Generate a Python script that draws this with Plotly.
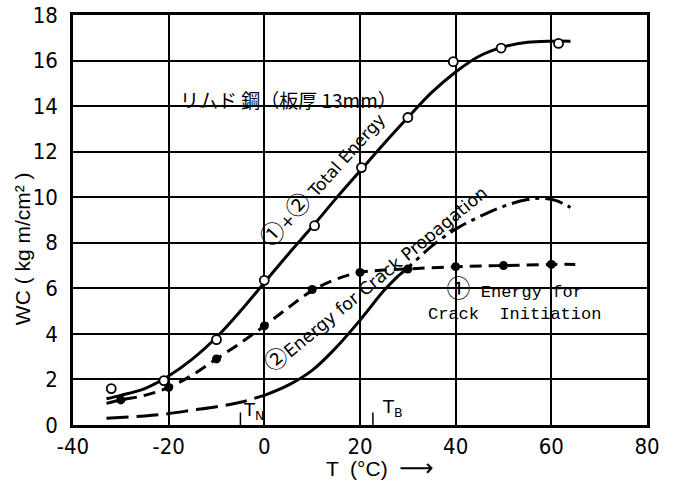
import plotly.graph_objects as go

# ---- data ----
# Total energy (1)+(2): measured points (open circles) and fitted curve
tot_pts_T = [-32, -21, -10, 0, 10.5, 20.3, 30, 39.5, 49.5, 61.5]
tot_pts_WC = [1.6, 1.95, 3.75, 6.35, 8.75, 11.3, 13.5, 15.95, 16.55, 16.75]
tot_T = [-33, -30, -25, -20, -15, -10, -5, 0, 5, 10, 15, 20, 25, 30, 35, 40, 45, 50, 55, 60, 64]
tot_WC = [1.15, 1.3, 1.6, 2.15, 2.9, 3.85, 5.0, 6.25, 7.5, 8.7, 9.95, 11.15, 12.35, 13.5, 14.6, 15.5, 16.2, 16.6, 16.8, 16.85, 16.85]

# Energy for crack initiation (1): points (filled circles) and curve
ini_pts_T = [-30, -20, -10, 0, 10, 20, 30, 40, 50, 60]
ini_pts_WC = [1.1, 1.65, 2.9, 4.35, 5.95, 6.7, 6.85, 6.95, 7.0, 7.05]
ini_T = [-33, -30, -25, -20, -15, -10, -5, 0, 5, 10, 15, 20, 25, 30, 40, 50, 60, 65]
ini_WC = [0.95, 1.1, 1.3, 1.65, 2.2, 2.9, 3.6, 4.35, 5.15, 5.9, 6.4, 6.7, 6.8, 6.85, 6.95, 7.0, 7.05, 7.05]

# Energy for crack propagation (2): curve only
prop_T = [-33, -25, -20, -15, -10, -5, 0, 5, 10, 15, 20, 25, 28, 30, 35, 40, 45, 50, 55, 58, 61, 64]
prop_WC = [0.3, 0.4, 0.5, 0.65, 0.8, 1.0, 1.3, 1.75, 2.4, 3.4, 4.6, 5.9, 6.55, 6.9, 7.85, 8.6, 9.15, 9.6, 9.9, 9.95, 9.85, 9.55]

x_ticks = [-40, -20, 0, 20, 40, 60, 80]
y_ticks = [0, 2, 4, 6, 8, 10, 12, 14, 16, 18]

# Transition temperature marks
T_N = -5
T_B = 22.7

fig = go.Figure()

# propagation curve in three styled segments
i0 = prop_T.index(0)
i1 = prop_T.index(28)
fig.add_trace(go.Scatter(x=prop_T[:i0 + 1], y=prop_WC[:i0 + 1], mode="lines",
                         line=dict(color="black", width=3, dash="22px,8px", shape="spline"),
                         showlegend=False, hoverinfo="skip"))
fig.add_trace(go.Scatter(x=prop_T[i0:i1 + 1], y=prop_WC[i0:i1 + 1], mode="lines",
                         line=dict(color="black", width=3, shape="spline"),
                         showlegend=False, hoverinfo="skip"))
fig.add_trace(go.Scatter(x=prop_T[i1:], y=prop_WC[i1:], mode="lines",
                         line=dict(color="black", width=3, dash="18px,6px,4px,6px", shape="spline"),
                         showlegend=False, hoverinfo="skip"))

# crack initiation
fig.add_trace(go.Scatter(x=ini_T, y=ini_WC, mode="lines",
                         line=dict(color="black", width=3, dash="12px,7px", shape="spline"),
                         showlegend=False, hoverinfo="skip"))
fig.add_trace(go.Scatter(x=ini_pts_T, y=ini_pts_WC, mode="markers",
                         marker=dict(color="black", size=9, symbol="circle"),
                         showlegend=False, hoverinfo="skip"))

# total energy
fig.add_trace(go.Scatter(x=tot_T, y=tot_WC, mode="lines",
                         line=dict(color="black", width=3, shape="spline"),
                         showlegend=False, hoverinfo="skip"))
fig.add_trace(go.Scatter(x=tot_pts_T, y=tot_pts_WC, mode="markers",
                         marker=dict(color="white", size=9, symbol="circle",
                                     line=dict(color="black", width=1.8)),
                         showlegend=False, hoverinfo="skip"))

# T_N, T_B short marks
for tv in (T_N, T_B):
    fig.add_shape(type="line", x0=tv, x1=tv, y0=0, y1=0.55, xref="x", yref="y",
                  line=dict(color="black", width=1.5))

font_main = "DejaVu Sans, Liberation Sans, sans-serif"
font_cjk = "Noto Sans CJK JP"


def circ(ch, size):
    return f"<span style=\"font-family:'Noto Sans CJK JP';font-size:{size}px\">{ch}</span>"


ann = [
    dict(x=5, y=14.3, text="リムド 鋼（板厚 13mm）", font=dict(family=font_cjk, size=19)),
    dict(x=11.8, y=10.85, text=circ("①", 24) + "+" + circ("②", 24) + " Total Energy", textangle=-48,
         font=dict(family=font_main, size=17)),
    dict(x=23.0, y=6.55, text=circ("②", 23) + "Energy for Crack Propagation", textangle=-39.5,
         font=dict(family=font_main, size=17.5)),
    dict(x=52.3, y=5.65, text=circ("①", 24) + " Energy for<br>Crack  Initiation", align="center",
         font=dict(family="Liberation Mono, DejaVu Sans Mono", size=17)),
    dict(x=-2.3, y=0.6, text="T<sub>N</sub>", font=dict(family=font_main, size=18)),
    dict(x=26.7, y=0.75, text="T<sub>B</sub>", font=dict(family=font_main, size=18)),
]
for a in ann:
    a.update(xref="x", yref="y", showarrow=False)
    fig.add_annotation(**a)

# axis titles
fig.add_annotation(xref="paper", yref="paper", x=-0.088, y=0.43, xanchor="center", yanchor="middle",
                   text="WC ( kg m/cm² )", textangle=-90, showarrow=False,
                   font=dict(family="Liberation Sans, Arial", size=21, color="black"))
fig.add_annotation(xref="paper", yref="paper", x=0.535, y=-0.104, xanchor="center", yanchor="middle",
                   text="T  (°C)  <span style=\"font-size:24px\">⟶</span>", showarrow=False,
                   font=dict(family="Liberation Sans, DejaVu Sans", size=21, color="black"))

tick_font = dict(family="DejaVu Sans Condensed, Liberation Sans, Arial", size=22, color="black")

fig.update_xaxes(range=[-40, 80], tickvals=x_ticks, ticktext=[str(v) for v in x_ticks],
                 showgrid=True, gridcolor="black", gridwidth=1.8,
                 showline=True, linecolor="black", linewidth=2.5, mirror=True,
                 zeroline=False, ticks="", tickfont=tick_font, ticklabelstandoff=0,
                 automargin=False)
fig.update_yaxes(range=[0, 18], tickvals=y_ticks, ticktext=[str(v) for v in y_ticks],
                 showgrid=True, gridcolor="black", gridwidth=1.8,
                 showline=True, linecolor="black", linewidth=2.5, mirror=True,
                 zeroline=False, ticks="", tickfont=tick_font, ticklabelstandoff=8,
                 automargin=False)

fig.update_layout(width=674, height=483,
                  margin=dict(l=73, r=27, t=15, b=58, autoexpand=False),
                  plot_bgcolor="white", paper_bgcolor="white",
                  font=dict(color="black"))

fig.write_html("out.html")
